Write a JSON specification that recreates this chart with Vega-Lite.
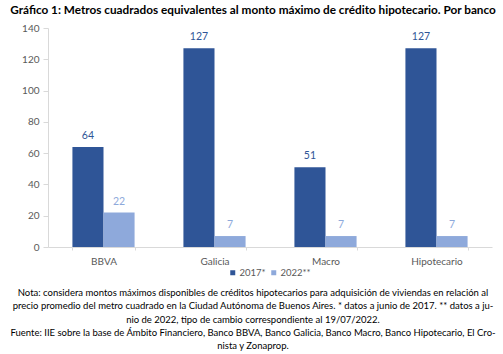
{
  "$schema": "https://vega.github.io/schema/vega-lite/v6.json",
  "padding": {"left": 10, "right": 10, "top": 5, "bottom": 2},
  "background": "white",
  "title": {"text": "Gráfico 1: Metros cuadrados equivalentes al monto máximo de crédito hipotecario. Por banco", "anchor": "start", "frame": "bounds", "font": "Lato", "fontSize": 11.75, "fontWeight": "bold", "color": "#000000", "offset": 6},
  "data": {"values": [
    {"banco": "BBVA", "serie": "2017*", "valor": 64},
    {"banco": "BBVA", "serie": "2022**", "valor": 22},
    {"banco": "Galicia", "serie": "2017*", "valor": 127},
    {"banco": "Galicia", "serie": "2022**", "valor": 7},
    {"banco": "Macro", "serie": "2017*", "valor": 51},
    {"banco": "Macro", "serie": "2022**", "valor": 7},
    {"banco": "Hipotecario", "serie": "2017*", "valor": 127},
    {"banco": "Hipotecario", "serie": "2022**", "valor": 7}
  ]},
  "vconcat": [
    {
      "title": {"text": ["Nota: considera montos máximos disponibles de créditos hipotecarios para adquisición de viviendas en relación al", "precio promedio del metro cuadrado en la Ciudad Autónoma de Buenos Aires. * datos a junio de 2017. ** datos a ju-", "nio de 2022, tipo de cambio correspondiente al 19/07/2022.", "Fuente: IIE sobre la base de Ámbito Financiero, Banco BBVA, Banco Galicia, Banco Macro, Banco Hipotecario, El Cro-", "nista y Zonaprop."], "orient": "bottom", "anchor": "middle", "frame": "bounds", "font": "Lato", "fontSize": 9.5, "fontWeight": "normal", "color": "#000000", "lineHeight": 13.3, "offset": 22},
      "vconcat": [
        {
          "width": 444,
          "height": 219,
          "encoding": {
            "x": {"field": "banco", "type": "nominal", "sort": ["BBVA", "Galicia", "Macro", "Hipotecario"], "scale": {"paddingInner": 0.44, "paddingOuter": 0.22}, "axis": {"title": null, "labelAngle": 0, "ticks": true, "tickBand": "extent", "tickSize": 3, "tickColor": "#d9d9d9", "domainColor": "#d9d9d9", "labelColor": "#595959", "labelFont": "Lato", "labelFontSize": 10, "labelPadding": 6}},
            "xOffset": {"field": "serie", "type": "nominal", "sort": ["2017*", "2022**"]},
            "y": {"field": "valor", "type": "quantitative", "scale": {"domain": [0, 140], "nice": false}, "axis": {"title": null, "values": [0, 20, 40, 60, 80, 100, 120, 140], "grid": false, "domainColor": "#d9d9d9", "tickColor": "#d9d9d9", "tickSize": 5, "labelColor": "#595959", "labelFont": "Lato", "labelFontSize": 10, "labelPadding": 4, "minExtent": 34}}
          },
          "layer": [
            {
              "mark": {"type": "bar"},
              "encoding": {
                "color": {"field": "serie", "type": "nominal", "sort": ["2017*", "2022**"], "scale": {"range": ["#2F5597", "#8EA9DB"]}, "legend": {"title": null, "orient": "none", "legendX": 180, "legendY": 240, "direction": "horizontal", "gridAlign": "none", "symbolType": "square", "symbolSize": 25, "symbolStrokeWidth": 0, "labelFont": "Lato", "labelFontSize": 9.5, "labelColor": "#595959", "labelOffset": 2, "columnPadding": 3}}
              }
            },
            {
              "mark": {"type": "text", "dy": -11, "font": "Lato", "fontSize": 10.5},
              "encoding": {
                "text": {"field": "valor", "type": "quantitative"},
                "color": {"field": "serie", "type": "nominal", "sort": ["2017*", "2022**"], "scale": {"range": ["#2F5597", "#8EA9DB"]}, "legend": null}
              }
            }
          ]
        }
      ]
    }
  ],
  "config": {"view": {"stroke": null}, "concat": {"spacing": 0}}
}
